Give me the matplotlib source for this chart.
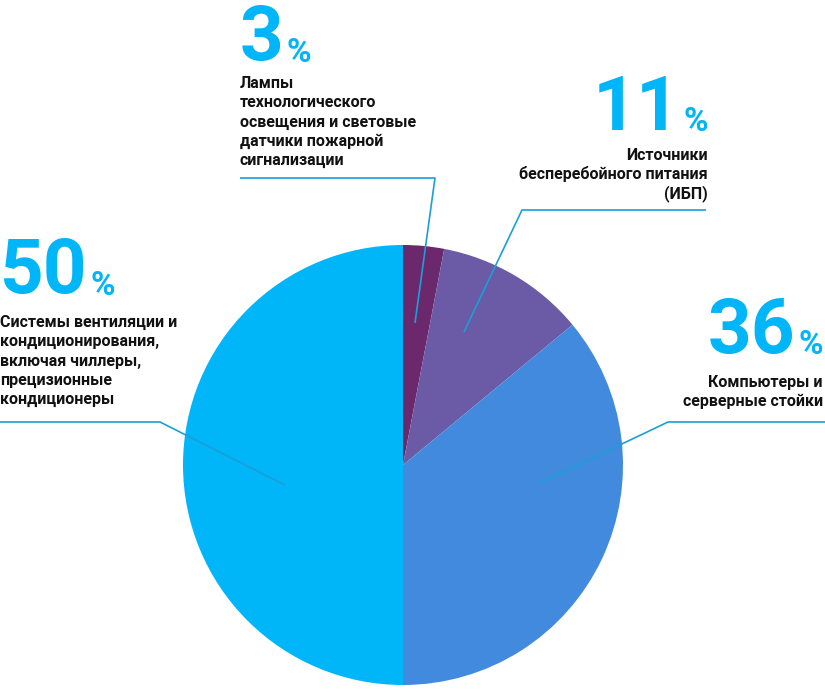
import matplotlib.pyplot as plt

plt.rcParams["font.family"] = ["Roboto", "DejaVu Sans"]

W, H = 825, 693

shares = [3, 11, 36, 50]
colors = ["#6c286c", "#6b5aa6", "#418ade", "#00b5f8"]
names = [
    ["Лампы", "технологического", "освещения и световые",
     "датчики пожарной", "сигнализации"],
    ["Источники", "бесперебойного питания", "(ИБП)"],
    ["Компьютеры и", "серверные стойки"],
    ["Системы вентиляции и", "кондиционирования,", "включая чиллеры,",
     "прецизионные", "кондиционеры"],
]

NUM_COLOR = "#00b5f8"
LINE_COLOR = "#1a9fd6"

# label layout in pixel coords (x, number baseline, first text baseline)
layout = [
    dict(x=240, num_y=60, text_y=88, ha="left"),
    dict(x=708, num_y=130, text_y=160, ha="right"),
    dict(x=823, num_y=353, text_y=387, ha="right"),
    dict(x=0, num_y=293, text_y=327, ha="left"),
]
# leader lines: inner point, elbow, outer end
leaders = [
    [(415, 323), (435, 178), (240, 178)],
    [(464, 332), (522, 210), (706, 210)],
    [(540, 483), (668, 422), (825, 422)],
    [(285, 485), (160, 422), (0, 422)],
]


def py(y):
    return H - y


fig = plt.figure(figsize=(W / 100, H / 100), dpi=100)
ax = fig.add_axes([0, 0, 1, 1])
ax.pie(shares, colors=colors, startangle=90, counterclock=False,
       center=(403, py(465)), radius=220,
       wedgeprops=dict(linewidth=0))
ax.set_xlim(0, W)
ax.set_ylim(0, H)
ax.set_aspect("equal")
ax.axis("off")

for pts in leaders:
    ax.plot([p[0] for p in pts], [py(p[1]) for p in pts],
            color=LINE_COLOR, lw=1.2, solid_capstyle="butt", zorder=3)

for share, lines, lay in zip(shares, names, layout):
    num = str(share)
    if lay["ha"] == "left":
        t = ax.text(lay["x"], py(lay["num_y"]), num, fontsize=55,
                    fontweight="bold", color=NUM_COLOR, ha="left",
                    va="baseline")
        fig.canvas.draw()
        bb = t.get_window_extent()
        ax.text(bb.x1 + 3, py(lay["num_y"]) - 2, "%", fontsize=24,
                fontweight="bold", color=NUM_COLOR, ha="left",
                va="baseline")
    else:
        p = ax.text(lay["x"], py(lay["num_y"]) - 1, "%", fontsize=24,
                    fontweight="bold", color=NUM_COLOR, ha="right",
                    va="baseline")
        fig.canvas.draw()
        bb = p.get_window_extent()
        ax.text(bb.x0 - 3, py(lay["num_y"]), num, fontsize=55,
                fontweight="bold", color=NUM_COLOR, ha="right",
                va="baseline")
    for i, line in enumerate(lines):
        ax.text(lay["x"], py(lay["text_y"] + i * 19.3), line,
                fontsize=11.5, fontweight="bold", color="#111111",
                ha=lay["ha"], va="baseline")

fig.savefig("out.png", dpi=100)
